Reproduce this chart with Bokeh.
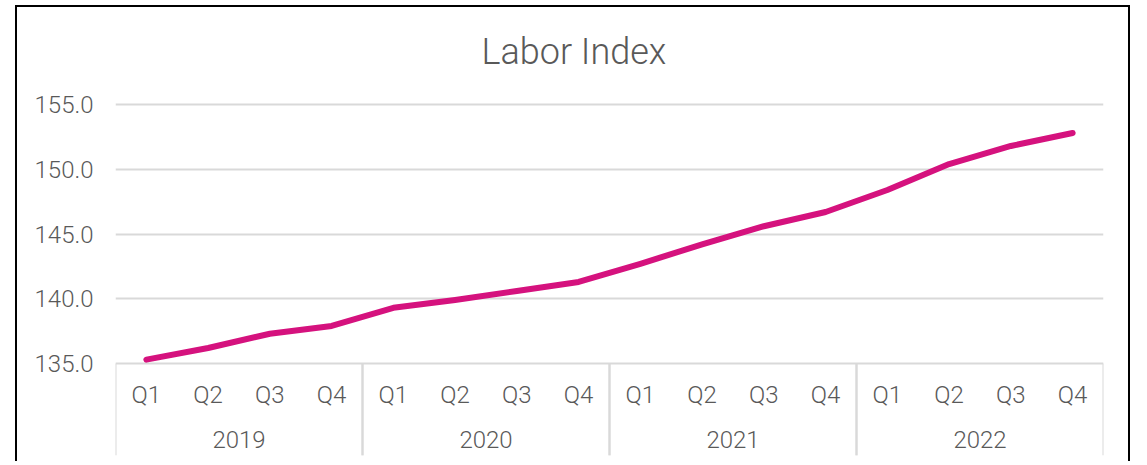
from bokeh.plotting import figure
from bokeh.models import FactorRange, Range1d, FixedTicker, NumeralTickFormatter, ColumnDataSource, Title
from bokeh.transform import dodge
from bokeh.core.properties import value
from bokeh.embed import file_html
from bokeh.resources import INLINE

# ---- data ----
years = ["2019", "2020", "2021", "2022"]
quarters = ["Q1", "Q2", "Q3", "Q4"]
labor_index = [135.3, 136.2, 137.3, 137.9,
               139.3, 139.9, 140.6, 141.3,
               142.7, 144.2, 145.6, 146.7,
               148.4, 150.4, 151.8, 152.8]
y_ticks = [135, 140, 145, 150, 155]
title_text = "Labor Index"

# ---- styling ----
FONT = "Roboto Light"
TEXT_COLOR = "#595959"
GRID_COLOR = "#d9d9d9"
LINE_COLOR = "#D5127E"

factors = [(y, q) for y in years for q in quarters]

Y_MIN, Y_MAX = 135, 155
PX_PER_UNIT = 12.95
TABLE_PX = 92
TOP_PX = 24
y_start = Y_MIN - TABLE_PX / PX_PER_UNIT
y_end = Y_MAX + TOP_PX / PX_PER_UNIT

p = figure(
    width=1115, height=456,
    x_range=FactorRange(*factors, range_padding=0, group_padding=0,
                        factor_padding=0, subgroup_padding=0),
    y_range=Range1d(y_start, y_end),
    x_axis_location=None,
    output_backend="svg", toolbar_location=None,
    min_border_left=98, min_border_right=29,
    min_border_top=73, min_border_bottom=8,
)
p.styles = {
    "margin-left": "15px",
    "margin-top": "5px",
    "border-top": "2px solid #000",
    "border-left": "2px solid #000",
    "border-right": "2px solid #000",
}
p.outline_line_color = None
p.background_fill_color = "white"
p.border_fill_color = "white"

p.add_layout(Title(text=title_text, align="left", offset=366,
                   text_font=FONT, text_font_size="36px",
                   text_font_style="normal", text_color=TEXT_COLOR,
                   standoff=15), "above")

p.xgrid.visible = False
p.ygrid.ticker = FixedTicker(ticks=y_ticks)
p.ygrid.grid_line_color = GRID_COLOR
p.ygrid.grid_line_width = 2

ax = p.yaxis[0]
ax.ticker = FixedTicker(ticks=y_ticks)
ax.formatter = NumeralTickFormatter(format="0.0")
ax.axis_line_color = None
ax.major_tick_line_color = None
ax.minor_tick_line_color = None
ax.major_tick_out = 0
ax.major_tick_in = 0
ax.major_label_standoff = 22
ax.major_label_text_font = FONT
ax.major_label_text_font_size = "24px"
ax.major_label_text_color = TEXT_COLOR

# category table separators
sep = ColumnDataSource(dict(x=years, y0=[Y_MIN] * len(years), y1=[y_start] * len(years)))
for d in (-2, 2):
    p.segment(x0=dodge("x", d, range=p.x_range), x1=dodge("x", d, range=p.x_range),
              y0="y0", y1="y1", source=sep, line_color=GRID_COLOR, line_width=2)

# quarter labels
qsrc = ColumnDataSource(dict(x=factors, y=[Y_MIN] * len(factors), t=[f[1] for f in factors]))
p.text(x="x", y="y", text="t", source=qsrc, y_offset=31,
       text_align="center", text_baseline="middle",
       text_font=value(FONT), text_font_size="24px", text_color=TEXT_COLOR)

# year labels
ysrc = ColumnDataSource(dict(x=years, y=[Y_MIN] * len(years), t=years))
p.text(x="x", y="y", text="t", source=ysrc, y_offset=76,
       text_align="center", text_baseline="middle",
       text_font=value(FONT), text_font_size="24px", text_color=TEXT_COLOR)

# series
p.line(x=factors, y=labor_index, line_color=LINE_COLOR, line_width=6,
       line_join="round", line_cap="round")

open("out.html", "w").write(file_html(p, INLINE))
